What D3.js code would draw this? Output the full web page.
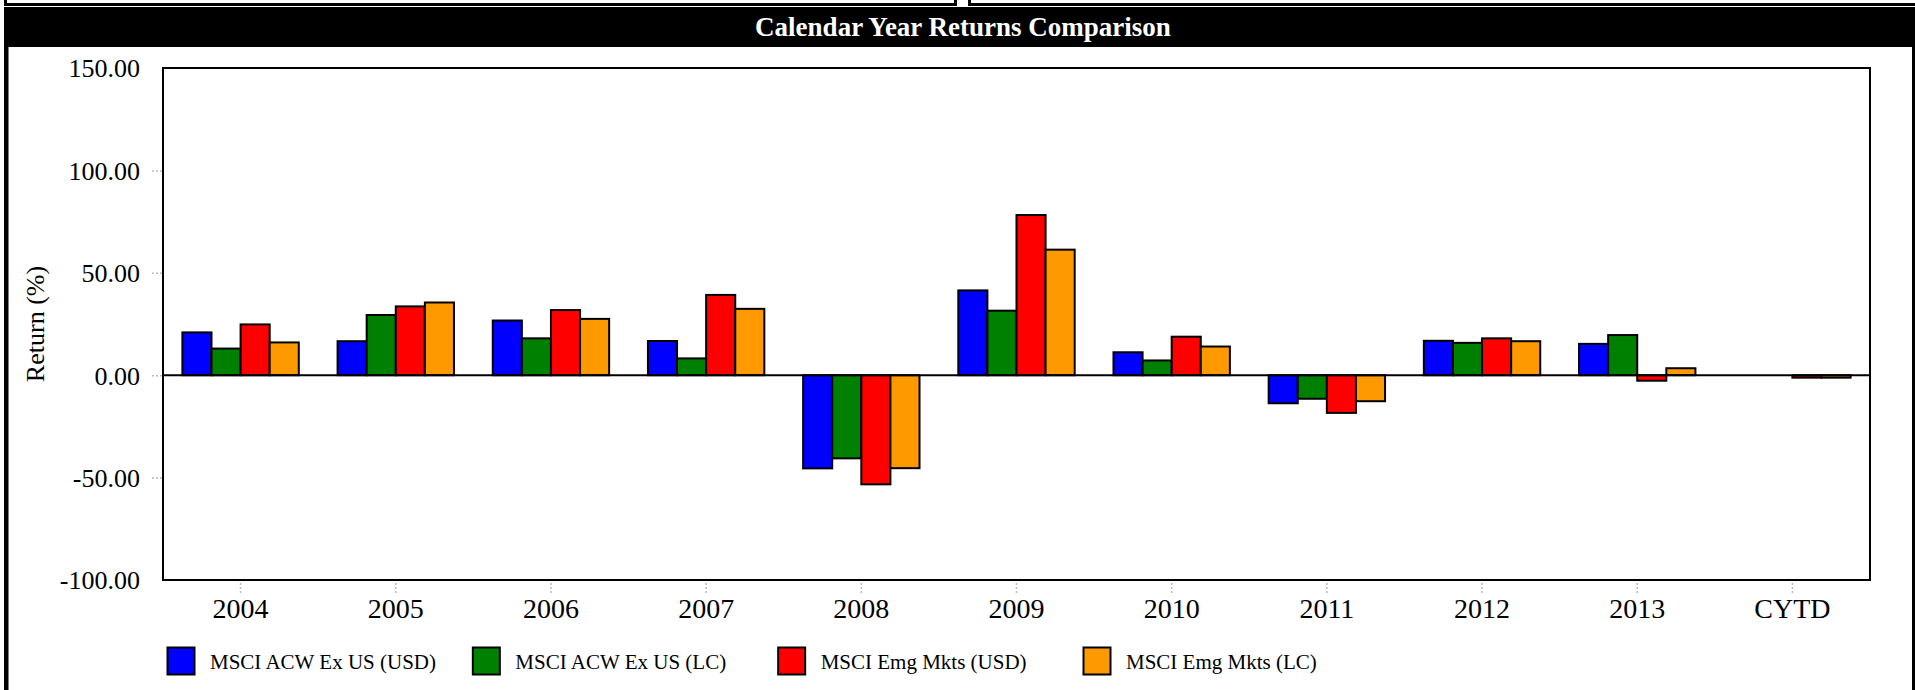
<!DOCTYPE html>
<html>
<head>
<meta charset="utf-8">
<script src="https://cdn.jsdelivr.net/npm/d3@7/dist/d3.min.js"></script>
<style>
  html, body { margin: 0; padding: 0; background: #fff; }
  svg { display: block; }
  text { font-family: "Liberation Serif", "Times New Roman", serif; }
</style>
</head>
<body>
<svg id="chart" width="1915" height="690"></svg>
<script>
// Calendar year returns (%) per index
const categories = ["2004", "2005", "2006", "2007", "2008", "2009", "2010", "2011", "2012", "2013", "CYTD"];
const seriesNames = ["MSCI ACW Ex US (USD)", "MSCI ACW Ex US (LC)", "MSCI Emg Mkts (USD)", "MSCI Emg Mkts (LC)"];
const seriesColors = ["#0000FF", "#008000", "#FF0000", "#FF9900"];
const acwxUsd = [20.9, 16.6, 26.7, 16.7, -45.5, 41.4, 11.2, -13.7, 16.8, 15.3, null];
const acwxLc  = [13.0, 29.4, 18.0, 8.2, -40.6, 31.5, 7.2, -11.5, 15.8, 19.6, null];
const emUsd   = [24.8, 33.6, 31.8, 39.2, -53.3, 78.2, 18.8, -18.4, 18.0, -2.7, -1.2];
const emLc    = [16.0, 35.5, 27.5, 32.4, -45.4, 61.3, 14.0, -12.7, 16.6, 3.4, -1.2];
const yTicks = [150, 100, 50, 0, -50, -100];

const seriesValues = [acwxUsd, acwxLc, emUsd, emLc];

const svg = d3.select("#chart");

// Header strip: two empty panels and the black title bar
svg.append("rect").attr("x", 5.5).attr("y", -10).attr("width", 950).attr("height", 14.5)
  .attr("fill", "#fff").attr("stroke", "#000").attr("stroke-width", 3);
svg.append("rect").attr("x", 969.5).attr("y", -10).attr("width", 950).attr("height", 14.5)
  .attr("fill", "#fff").attr("stroke", "#000").attr("stroke-width", 3);
svg.append("rect").attr("x", 4).attr("y", 7).attr("width", 1911).attr("height", 40).attr("fill", "#000");
svg.append("text").attr("x", 963).attr("y", 35.5)
  .attr("text-anchor", "middle").attr("fill", "#fff")
  .attr("font-size", 27).attr("font-weight", "bold")
  .text("Calendar Year Returns Comparison");

// Panel side borders
svg.append("rect").attr("x", 4).attr("y", 47).attr("width", 4.5).attr("height", 643).attr("fill", "#000");
svg.append("rect").attr("x", 1912).attr("y", 47).attr("width", 3).attr("height", 643).attr("fill", "#000");

// Plot area
const plotLeft = 163, plotRight = 1870, plotTop = 68, plotBottom = 580;

const x0 = d3.scaleBand().domain(categories).range([plotLeft, plotRight])
  .paddingInner(0.25).paddingOuter(0.125);
const x1 = d3.scaleBand().domain(d3.range(seriesNames.length)).range([0, x0.bandwidth()]).padding(0);
const y = d3.scaleLinear().domain([-100, 150]).range([plotBottom, plotTop]);

// Y axis labels (plain hyphen for negatives) and dotted ticks
const fmt = d3.formatLocale({ decimal: ".", thousands: ",", grouping: [3], currency: ["$", ""], minus: "-" }).format(".2f");
const yAxis = d3.axisLeft(y).tickValues(yTicks).tickFormat(fmt).tickSize(0).tickPadding(23);
const yg = svg.append("g").attr("transform", `translate(${plotLeft},0)`).call(yAxis);
yg.select(".domain").remove();
yg.selectAll("text").attr("font-size", 26).attr("fill", "#000")
  .attr("font-family", "Liberation Serif, serif").attr("dy", "0.34em");
yg.selectAll(".tick").filter(d => d !== 150 && d !== -100).append("line")
  .attr("x1", -11).attr("x2", -1).attr("stroke", "#bbb").attr("stroke-width", 1.5)
  .attr("stroke-dasharray", "2,2");

svg.append("text")
  .attr("transform", `translate(44,${(plotTop + plotBottom) / 2}) rotate(-90)`)
  .attr("text-anchor", "middle").attr("font-size", 26).text("Return (%)");

// X axis labels and dotted ticks
const xAxis = d3.axisBottom(x0).tickSize(0).tickPadding(0);
const xg = svg.append("g").attr("transform", `translate(0,${plotBottom})`).call(xAxis);
xg.select(".domain").remove();
xg.selectAll("text").attr("font-size", 28).attr("fill", "#000")
  .attr("font-family", "Liberation Serif, serif").attr("y", 38).attr("dy", 0);
xg.selectAll(".tick").append("line")
  .attr("y1", 3).attr("y2", 14).attr("stroke", "#bbb").attr("stroke-width", 1.5)
  .attr("stroke-dasharray", "2,2");

// Bars
const groups = svg.append("g").selectAll("g").data(categories).join("g")
  .attr("transform", d => `translate(${x0(d)},0)`);
groups.selectAll("rect")
  .data((c, i) => seriesValues.map((vals, s) => ({ s, v: vals[i] })).filter(d => d.v !== null))
  .join("rect")
  .attr("x", d => x1(d.s))
  .attr("width", x1.bandwidth())
  .attr("y", d => y(Math.max(0, d.v)))
  .attr("height", d => Math.abs(y(d.v) - y(0)))
  .attr("fill", d => seriesColors[d.s])
  .attr("stroke", "#000").attr("stroke-width", 2);

// Zero line and plot frame
svg.append("line").attr("x1", plotLeft).attr("x2", plotRight).attr("y1", y(0)).attr("y2", y(0))
  .attr("stroke", "#000").attr("stroke-width", 2);
svg.append("rect").attr("x", plotLeft).attr("y", plotTop)
  .attr("width", plotRight - plotLeft).attr("height", plotBottom - plotTop)
  .attr("fill", "none").attr("stroke", "#000").attr("stroke-width", 2);

// Legend
const legendX = d3.scalePoint().domain(d3.range(seriesNames.length)).range([167, 1083]);
const lg = svg.append("g").selectAll("g").data(seriesNames).join("g")
  .attr("transform", (d, i) => `translate(${legendX(i)},647)`);
lg.append("rect").attr("x", 0.5).attr("y", 0.5).attr("width", 27).attr("height", 27)
  .attr("fill", (d, i) => seriesColors[i]).attr("stroke", "#000").attr("stroke-width", 2);
lg.append("text").attr("x", 43).attr("y", 22).attr("font-size", 21).text(d => d);
</script>
</body>
</html>
